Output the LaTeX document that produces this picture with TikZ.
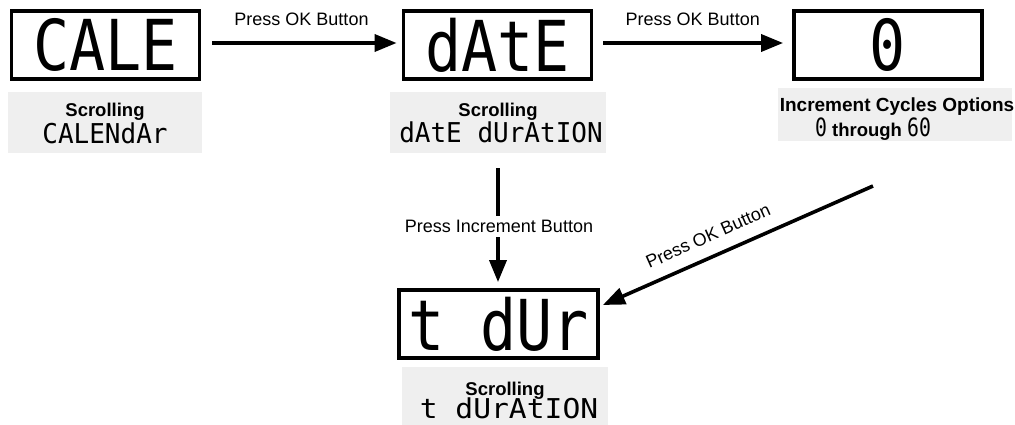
\documentclass[tikz,border=0pt]{standalone}
\usepackage{fontspec}
\setmainfont{Liberation Sans}
\newfontfamily\lcdfont{DejaVu Sans Mono}
\usetikzlibrary{arrows.meta}
\definecolor{panelgray}{RGB}{239,239,239}
\tikzset{
  lcdbox/.style={draw, line width=3.8pt, minimum width=188pt, minimum height=68pt, inner sep=0pt},
  panelbox/.style={fill=panelgray, draw=none, inner sep=0pt},
  flow/.style={line width=3.6pt, -{Triangle[length=22pt,width=17pt]}},
  lbl/.style={font=\fontsize{18}{20}\selectfont, inner sep=0pt},
  head/.style={font=\fontsize{18.5}{20}\selectfont\bfseries, inner sep=0pt, anchor=base},
  lcdtext/.style={inner sep=0pt}
}
\newcommand\biglcd[1]{\scalebox{1}[1.17]{\fontsize{60}{60}\selectfont\lcdfont\mdseries #1}}
\newcommand\smalllcd[2][1]{\scalebox{#1}[1.05]{\fontsize{26}{26}\selectfont\lcdfont\mdseries #2}}
\newcommand\tinylcd[1]{\scalebox{1.1}[1.4]{\fontsize{18}{18}\selectfont\lcdfont\mdseries #1}}
\begin{document}
\begin{tikzpicture}[x=1pt,y=-1pt]
\useasboundingbox (0,0) rectangle (1015,425);
% displays
\node[lcdbox] (cale) at (105.5,45) {\biglcd{CALE}};
\node[lcdbox] (date) at (497.5,45) {\biglcd{dAtE}};
\node[lcdbox] (zero) at (888,45) {\biglcd{0}};
\node[lcdbox, minimum width=199pt] (tdur) at (498.5,324) {\biglcd{t dUr}};
% panels
\node[panelbox, minimum width=194pt, minimum height=61pt] (p1) at (105,122.5) {};
\node[head] (s1) at (105,117) {Scrolling};
\node[lcdtext] (l1) at (105,133) {\smalllcd{CALENdAr}};
\node[panelbox, minimum width=216pt, minimum height=61pt] (p2) at (498,122.5) {};
\node[head] (s2) at (498,117) {Scrolling};
\node[lcdtext] (l2) at (501,132) {\smalllcd{dAtE dUrAtION}};
\node[panelbox, minimum width=234pt, minimum height=53pt] (p3) at (895,115) {};
\node[head, font=\fontsize{19}{21}\selectfont\bfseries] (s3) at (897,112) {Increment Cycles Options};
\node[head] (l3) at (873,137) {\tinylcd{0} through \tinylcd{60}};
\node[panelbox, minimum width=206pt, minimum height=58pt] (p4) at (505,396) {};
\node[head] (s4) at (505,395) {Scrolling};
\node[lcdtext] (l4) at (509,408) {\smalllcd[1.14]{t dUrAtION}};
% connectors
\draw[flow, shorten <=11pt, shorten >=5pt] ([yshift=2pt]cale.east) -- ([yshift=2pt]date.west)
  node[lbl, midway, above=16pt] (a1) {Press OK Button};
\draw[flow, shorten <=10pt, shorten >=9pt] ([yshift=2pt]date.east) -- ([yshift=2pt]zero.west)
  node[lbl, midway, above=16pt] (a2) {Press OK Button};
\draw[flow, shorten <=15pt, shorten >=6pt] (p2.south) -- (p2.south |- tdur.north);
\node[lbl, fill=white, inner xsep=2pt, inner ysep=4pt] (a3) at (499,226.5) {Press Increment Button};
\coordinate (src) at (873,186);
\draw[flow] (src) -- ([xshift=3pt,yshift=19pt]tdur.east);
\node[lbl, rotate=24] (a4) at (708,236) {Press OK Button};
\end{tikzpicture}
\end{document}
